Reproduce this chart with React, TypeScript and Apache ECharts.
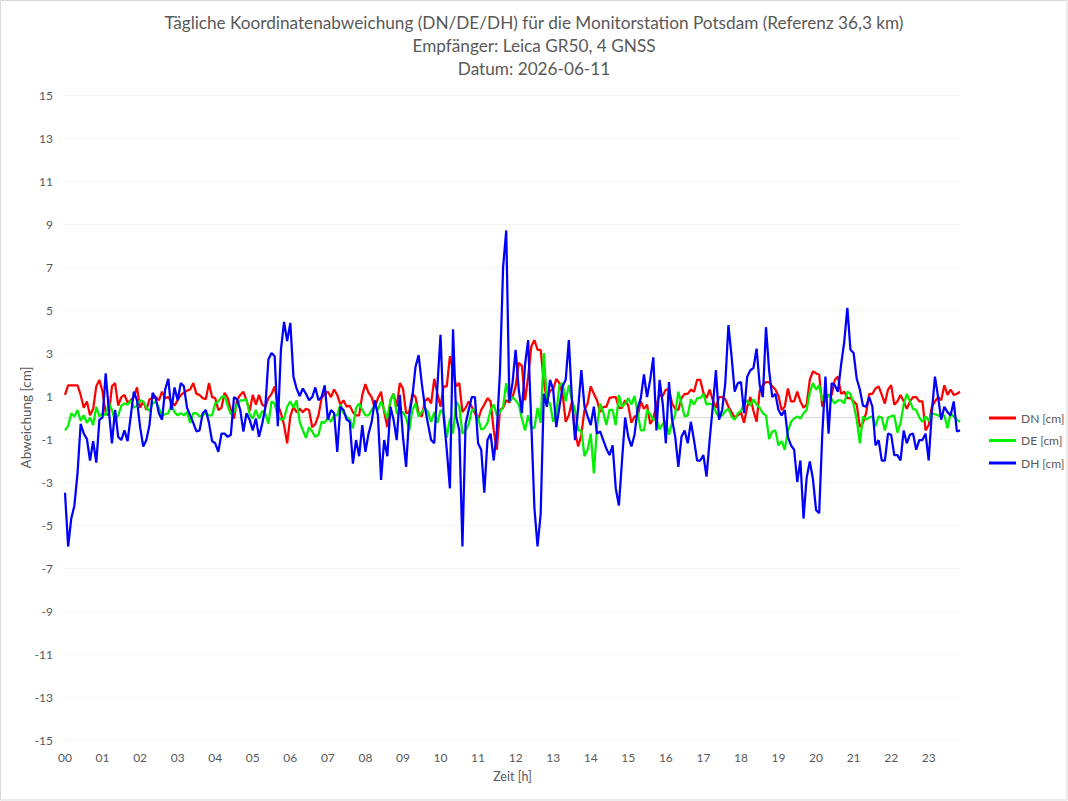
import { useEffect, useRef } from 'react';
import * as echarts from 'echarts';

// Hour labels of the time axis and the 5-minute steps inside each hour
const HOURS = ['00', '01', '02', '03', '04', '05', '06', '07', '08', '09', '10', '11',
  '12', '13', '14', '15', '16', '17', '18', '19', '20', '21', '22', '23'];
const MINUTES = ['00', '05', '10', '15', '20', '25', '30', '35', '40', '45', '50', '55'];

// North deviation [cm], one row per hour
const DN = [
  1.05, 1.5, 1.5, 1.5, 1.5, 1.05, 0.45, 0.75, 0.1, 0.4, 1.45, 1.75,
  1.2, 0.2, 0.1, 1.45, 1.6, 0.55, 0.95, 1.05, 0.7, 0.8, 0.95, 1.4,
  0.45, 0.75, 0.35, 0.85, 0.9, 0.95, 0.8, 1.2, 0.9, 0.95, 0.75, 0.55,
  0.8, 1.05, 1.15, 1.25, 1.3, 1.6, 1.1, 1.05, 0.9, 0.85, 1.6, 0.95,
  0.9, 0.35, 0.45, 1.15, 0.9, 0.35, -0.05, 0.8, 1.05, 1.2, 0.8, 0.3,
  1.05, 0.6, 1.05, 0.6, 0.5, 0.9, 1.1, 1.45, 0.6, 0.2, -0.35, -1.2,
  0.05, 0.5, 0.25, 0.4, 0.25, 0.4, 0.35, -0.45, -0.3, 0.1, 0.9, 1.1,
  1.2, 0.95, 1.3, 1.05, 0.6, 0.8, 0.5, 0.55, 0.25, 0.1, 0.1, 1.05,
  1.55, 1.15, 0.95, 0.45, 0.9, 1.2, 0.25, -0.45, 0.8, 1.1, 0.5, 1.6,
  1.35, 0.2, 0.25, 1.1, 0.95, 0.2, 0.05, 0.75, 0.9, 0.65, 1.8, 1.1,
  0.5, 1.45, 1.45, 2.85, 2.2, 1.45, 1.6, 0.25, 0.45, 0.75, 0.5, 0.2,
  -0.1, 0.35, 0.6, 0.9, 0.75, -0.6, -1.5, 0.35, 0.45, 0.8, 0.7, 0.95,
  1.45, 2.55, 2.4, 0.8, 1.9, 3.3, 3.6, 3.15, 3.15, 1.65, 0.8, 1.25,
  1.3, 1.8, 1.6, 1.1, -0.2, 0.1, 0.75, -0.65, -1.35, -0.8, 0.35, 0.65,
  1.45, 1.1, 0.8, 0.25, 0.5, 0.5, 0.9, 0.95, 0.95, 0.45, 0.45, 0.8,
  0.55, -0.25, 0.05, 0.05, 0.75, 0.4, 0.6, -0.3, -0.05, 0.6, 1.05, 1.0,
  1.3, 1.3, 0.65, 0.4, 0.35, 0.9, 1.1, 1.1, 1.3, 1.2, 1.75, 1.75,
  1.15, 0.9, 1.3, 0.8, 0.45, 0.95, 0.95, 0.85, 0.5, 0.25, 0.0, 0.1,
  0.25, -0.25, 0.5, 0.95, 0.3, -0.2, 1.25, 1.5, 1.65, 1.65, 1.45, 1.3,
  1.0, 0.35, 0.5, 1.35, 0.75, 0.75, 1.2, 0.75, 0.45, 0.6, 1.75, 2.15,
  2.05, 2.0, 0.5, 0.9, 1.05, 1.05, 1.75, 1.9, 1.1, 1.2, 0.9, 0.9,
  0.75, 0.6, -0.45, -0.25, 0.2, 1.1, 1.1, 1.35, 1.45, 1.05, 0.65, 1.3,
  1.5, 0.6, 0.75, 1.05, 0.75, 0.4, 0.75, 0.95, 0.95, 0.75, 0.75, -0.6,
  -0.35, 0.5, 0.75, 0.95, 0.8, 1.5, 1.05, 1.3, 1.05, 1.1, 1.2,
];

// East deviation [cm]
const DE = [
  -0.6, -0.4, 0.2, 0.05, 0.35, -0.15, 0.1, -0.25, 0.0, -0.35, 0.5, 0.05,
  0.2, 0.1, 0.7, 0.35, -0.15, 0.1, 0.55, 0.65, 0.6, 0.8, 0.45, 0.55,
  0.8, 0.75, 0.45, 0.3, 0.65, 0.75, 0.45, 0.1, 0.15, 0.2, 0.6, 0.25,
  0.1, 0.2, 0.1, 0.25, -0.25, 0.2, 0.2, 0.05, 0.1, 0.2, 0.1, 0.1,
  0.65, 0.75, 0.95, 1.0, 0.55, 0.15, 0.25, 0.6, 0.8, 0.8, 0.85, 0.15,
  -0.05, 0.35, -0.05, 0.3, 0.2, -0.3, 0.75, 0.65, 0.05, -0.1, -0.05, 0.5,
  0.75, 0.45, 0.8, -0.2, -0.6, -0.95, -0.45, -0.65, -0.9, -0.8, -0.2, -0.25,
  0.0, -0.2, 0.1, 0.1, 0.6, 0.2, 0.05, -0.1, -0.5, 0.45, 0.65, 0.35,
  0.1, 0.1, 0.35, 0.55, 0.35, 0.75, 0.35, -0.05, 0.8, 1.1, 0.2, 0.2,
  0.25, 0.0, -0.6, 0.35, 0.65, 0.05, 0.25, 0.45, 0.25, -0.2, 0.25, -0.25,
  0.35, 0.2, -0.95, -0.05, -0.75, 0.75, 0.5, -0.75, -0.6, -0.3, 0.35, 0.35,
  -0.05, -0.55, -0.5, -0.25, 0.35, 0.6, 0.1, 0.25, 0.5, 1.6, 0.75, 0.95,
  0.8, 0.6, -0.05, -0.6, 0.1, -0.45, -0.5, 0.45, -0.25, 3.0, 0.8, 0.65,
  -0.2, 0.2, 1.5, 1.6, 0.75, 1.5, 0.8, 0.35, -0.6, -0.6, -1.8, -1.5,
  -0.75, -2.6, -0.45, 0.65, 0.25, -0.35, 0.35, 0.35, -0.35, 1.05, 0.5, 0.65,
  0.9, 0.6, 1.0, 0.2, -0.6, -0.6, 0.35, 0.15, -0.1, -0.1, -0.55, -0.3,
  -0.15, -0.8, -0.25, 0.15, 1.2, 0.65, 0.05, 0.1, 0.85, 0.6, 0.9, 0.9,
  1.1, 0.6, 0.65, 0.6, 0.25, 0.0, 0.1, 0.3, 0.4, 0.05, -0.1, 0.2,
  0.3, 0.65, 0.8, 0.55, 0.85, 0.6, 0.45, 0.2, 0.1, -1.0, -0.65, -0.6,
  -1.3, -1.1, -1.5, -0.65, -0.2, -0.05, 0.05, -0.05, 0.2, 0.35, 1.15, 1.6,
  1.3, 1.5, 0.8, 0.8, 1.05, 0.85, 0.65, 0.8, 0.8, 0.65, 1.2, 1.1,
  0.6, -0.1, -1.2, 0.05, -0.1, 0.0, 0.05, -0.4, 0.05, 0.0, -0.6, 0.0,
  0.05, 0.1, -0.7, -0.25, 0.6, 1.1, 0.75, 0.4, 0.35, 0.0, -0.2, 0.05,
  -0.15, 0.2, 0.15, 0.1, 0.05, 0.1, -0.5, 0.2, 0.05, -0.1, -0.2,
];

// Height deviation [cm]
const DH = [
  -3.5, -6.0, -4.7, -4.1, -2.6, -0.3, -0.75, -1.0, -2.0, -1.1, -2.1, -0.1,
  0.0, 2.05, 0.35, -1.2, 0.35, -0.9, -1.05, -0.6, -1.1, 0.05, 1.2, 0.8,
  -0.45, -1.35, -1.05, -0.35, 1.15, 0.9, 0.2, -0.1, 1.3, 1.8, 0.35, 1.4,
  0.8, 1.6, 1.45, 0.45, 0.1, -0.25, -0.65, -0.6, 0.2, 0.35, -0.25, -1.1,
  -1.2, -1.6, -0.75, -0.75, -0.9, -0.8, 0.95, 0.85, 0.35, -0.65, 0.2, -0.1,
  -0.6, -0.05, -0.9, -0.3, 0.45, 2.7, 3.0, 2.85, -0.4, 3.15, 4.45, 3.55,
  4.4, 1.9, 1.35, 1.0, 1.35, 1.1, 0.8, 0.95, 1.4, 0.8, 0.95, 1.5,
  -0.1, 0.35, 0.2, -1.6, 0.5, 0.35, -0.1, -0.2, -2.15, -1.05, -1.8, -0.35,
  -1.6, -0.75, -0.2, 0.8, 0.1, -2.9, -1.05, -1.8, 0.5, -0.1, -1.05, 1.05,
  -0.9, -2.3, 0.1, 0.95, 2.35, 2.9, 1.6, 0.5, -0.3, -1.05, -1.2, 1.45,
  3.85, 0.05, -1.5, -3.3, 4.1, 0.05, -0.6, -6.0, -0.3, 0.35, 0.95, 0.95,
  -1.2, -1.5, -3.5, -1.05, -0.75, -2.0, -0.6, 2.15, 7.0, 8.7, 0.75, 1.6,
  3.15, 1.3, 0.2, 2.45, 3.6, -0.25, -4.2, -6.0, -4.5, 1.1, 0.5, 1.75,
  1.3, -0.45, 0.5, 1.45, 1.75, 3.6, 0.8, -1.05, 0.45, 2.2, 0.5, 0.05,
  -0.35, 0.5, -0.75, -0.65, -1.05, -1.45, -1.75, -1.3, -3.3, -4.1, -2.0, 0.0,
  -0.9, -1.35, -0.8, 0.45, 0.9, 2.0, 0.95, 1.75, 2.8, -0.6, 1.75, 0.65,
  -1.2, 1.65, -0.1, -0.9, -2.3, -0.9, -0.6, -1.2, -0.2, -1.05, -2.0, -2.0,
  -1.75, -2.75, -1.05, 0.5, 2.2, -0.1, 0.35, 1.6, 4.3, 2.85, 1.2, 1.6,
  1.65, 0.2, 1.9, 2.2, 2.3, 3.2, 1.5, 0.95, 4.2, 2.2, 0.95, 1.1,
  0.35, 0.1, 0.35, -0.9, -1.3, -1.5, -3.0, -2.0, -4.7, -2.8, -2.05, -2.85,
  -4.3, -4.45, -0.75, 1.9, -0.75, 1.6, 1.5, 1.2, 2.45, 3.5, 5.1, 3.15,
  3.0, 1.8, 1.3, 0.55, 0.5, 0.95, 0.5, -1.3, -1.05, -2.0, -2.0, -0.75,
  -0.8, -1.75, -1.75, -2.0, -0.6, -1.2, -0.8, -0.75, -1.5, -1.05, -1.05, -0.75,
  -2.0, 0.25, 1.9, 0.95, -0.1, 0.5, 0.25, 0.1, 0.75, -0.65, -0.6,
];

const SERIES_NAMES = ['DN [cm]', 'DE [cm]', 'DH [cm]'];
const SERIES_COLORS = ['#ff0000', '#00f000', '#0000ff'];

const Y_MIN = -15;
const Y_MAX = 15;
const Y_STEP = 2;

const TITLE_LINES = [
  'Tägliche Koordinatenabweichung (DN/DE/DH) für die Monitorstation Potsdam (Referenz 36,3 km)',
  'Empfänger: Leica GR50, 4 GNSS',
  'Datum: 2026-06-11',
];

// 5-minute time stamps for the category axis
const TIMES = HOURS.flatMap((h) => MINUTES.map((m) => `${h}:${m}`)).slice(0, DN.length);

const FONT = 'Lato, "Liberation Sans", sans-serif';
const TEXT_GREY = '#595959';

export default function App() {
  const ref = useRef<HTMLDivElement>(null);

  useEffect(() => {
    if (!ref.current) return;
    const chart = echarts.init(ref.current, null, { renderer: 'svg' });

    const seriesData = [DN, DE, DH];

    chart.setOption({
      animation: false,
      backgroundColor: '#ffffff',
      textStyle: { fontFamily: FONT, color: TEXT_GREY },
      title: {
        text: TITLE_LINES.join('\n'),
        left: 'center',
        top: 10.5,
        padding: 0,
        textStyle: {
          fontFamily: FONT,
          fontSize: 17.2,
          fontWeight: 'normal',
          color: TEXT_GREY,
          lineHeight: 23,
        },
      },
      graphic: [
        {
          type: 'rect',
          shape: { x: 0.5, y: 0.5, width: 1066.5, height: 799.5 },
          style: { fill: 'none', stroke: '#d9d9d9', lineWidth: 1 },
          silent: true,
        },
      ],
      legend: {
        orient: 'vertical',
        left: 984,
        top: 406,
        itemWidth: 27,
        itemHeight: 3,
        itemGap: 8.5,
        icon: 'rect',
        data: SERIES_NAMES,
        textStyle: { fontFamily: FONT, fontSize: 12, color: TEXT_GREY, lineHeight: 14 },
        selectedMode: false,
      },
      grid: { left: 65, top: 95, width: 895, height: 645, containLabel: false },
      xAxis: [
        {
          type: 'category',
          data: TIMES,
          boundaryGap: false,
          position: 'bottom',
          axisLine: { show: false, onZero: false },
          axisTick: { show: false },
          splitLine: { show: false },
          axisLabel: {
            interval: MINUTES.length - 1,
            margin: 11,
            fontFamily: FONT,
            fontSize: 12,
            color: TEXT_GREY,
            formatter: (v: string) => v.slice(0, 2),
          },
          name: 'Zeit [h]',
          nameLocation: 'middle',
          nameGap: 30,
          nameMoveOverlap: false,
          nameTextStyle: { fontFamily: FONT, fontSize: 12.5, color: TEXT_GREY },
        },
        {
          // zero line of the deviation scale
          type: 'category',
          data: TIMES,
          boundaryGap: false,
          axisLine: { show: true, onZero: true, lineStyle: { color: '#d9d9d9', width: 1.2 } },
          axisTick: { show: false },
          axisLabel: { show: false },
          splitLine: { show: false },
        },
      ],
      yAxis: {
        type: 'value',
        min: Y_MIN,
        max: Y_MAX,
        interval: Y_STEP,
        axisLine: { show: false },
        axisTick: { show: false },
        axisLabel: { margin: 12, fontFamily: FONT, fontSize: 12, color: TEXT_GREY },
        splitLine: { show: true, lineStyle: { color: '#d9d9d9', type: [1, 3], width: 1 } },
        name: 'Abweichung [cm]',
        nameLocation: 'middle',
        nameRotate: 90,
        nameGap: 32,
        nameMoveOverlap: false,
        nameTextStyle: { fontFamily: FONT, fontSize: 13.5, color: TEXT_GREY },
      },
      series: SERIES_NAMES.map((name, k) => ({
        name,
        type: 'line',
        xAxisIndex: 0,
        data: seriesData[k],
        showSymbol: false,
        symbol: 'none',
        color: SERIES_COLORS[k],
        lineStyle: { color: SERIES_COLORS[k], width: 2.25 },
        emphasis: { disabled: true },
        silent: true,
        z: 3 + k,
      })),
    });

    return () => chart.dispose();
  }, []);

  return (
    <div
      ref={ref}
      style={{ position: 'fixed', left: 0, top: 0, width: 1068, height: 801, background: '#ffffff' }}
    />
  );
}
